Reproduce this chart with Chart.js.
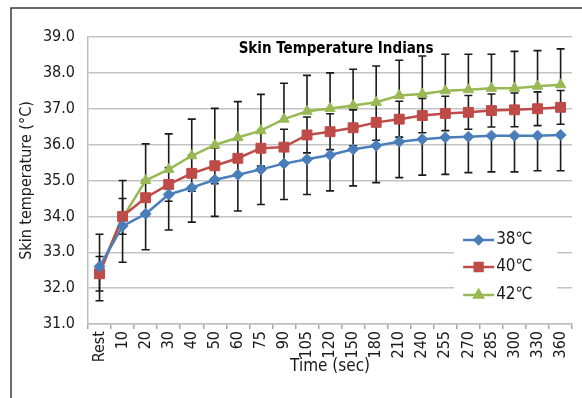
<!DOCTYPE html>
<html>
<head>
<meta charset="utf-8">
<script src="https://cdn.jsdelivr.net/npm/chart.js@4.4.1/dist/chart.umd.min.js"></script>
<style>
    html, body { margin: 0; padding: 0; background: #fff; }
    #wrap { width: 582px; height: 398px; position: relative; }
</style>
</head>
<body>
<div id="wrap"><canvas id="skinChart" width="582" height="398"></canvas></div>
<script>
// time points (sec)
const timeLabels = ['Rest', '10', '20', '30', '40', '50', '60', '75', '90', '105', '120',
    '150', '180', '210', '240', '255', '270', '285', '300', '330', '360'];

// mean skin temperature per condition
const temp38 = [32.6, 33.73, 34.07, 34.61, 34.8, 35.02, 35.16, 35.31, 35.47, 35.59, 35.71,
    35.87, 35.97, 36.08, 36.15, 36.2, 36.22, 36.25, 36.25, 36.25, 36.27];
const temp40 = [32.4, 34.0, 34.52, 34.89, 35.2, 35.41, 35.62, 35.9, 35.93, 36.27, 36.36,
    36.47, 36.62, 36.71, 36.81, 36.87, 36.9, 36.95, 36.97, 37.0, 37.04];
const temp42 = [32.5, 33.96, 35.0, 35.31, 35.69, 35.99, 36.2, 36.39, 36.71, 36.93, 37.01,
    37.09, 37.18, 37.37, 37.41, 37.5, 37.53, 37.57, 37.57, 37.63, 37.67];

// error bars (38 shown below, 40 both ways, 42 shown above)
const err38 = [0.95, 1.01, 1.0, 0.99, 0.96, 1.02, 1.01, 0.98, 1.0, 0.98, 1.0,
    1.02, 1.03, 1.0, 1.0, 1.03, 1.0, 1.01, 1.01, 0.98, 1.0];
const err40 = [0.48, 0.5, 0.5, 0.47, 0.5, 0.5, 0.5, 0.5, 0.5, 0.5, 0.5,
    0.5, 0.5, 0.5, 0.48, 0.48, 0.47, 0.46, 0.47, 0.47, 0.47];
const err42 = [1.0, 1.04, 1.02, 0.99, 1.02, 1.02, 1.0, 1.01, 1.0, 1.0, 0.99,
    1.01, 1.01, 0.98, 1.06, 1.02, 0.99, 0.95, 1.03, 0.99, 1.0];

const seriesNames = ['38\u2103', '40\u2103', '42\u2103'];
const seriesColors = ['#4a7ebb', '#be4b48', '#98b954'];

const FONT = "'Liberation Sans Narrow', 'DejaVu Sans Condensed', sans-serif";
Chart.defaults.font.family = FONT;
Chart.defaults.color = '#1a1a1a';

const errorSpec = [
    { plus: null, minus: err38 },
    { plus: err40, minus: err40 },
    { plus: err42, minus: null }
];

// outer frame, title and error bars
const frameAndTitle = {
    id: 'frameAndTitle',
    beforeDraw(chart) {
        const ctx = chart.ctx;
        ctx.save();
        ctx.strokeStyle = '#3a3a3a';
        ctx.lineWidth = 1.5;
        ctx.beginPath();
        ctx.moveTo(11, chart.height);
        ctx.lineTo(11, 8);
        ctx.lineTo(chart.width, 8);
        ctx.stroke();
        ctx.restore();
    },
    beforeDatasetsDraw(chart) {
        const ctx = chart.ctx;
        const area = chart.chartArea;
        ctx.save();
        ctx.fillStyle = '#000';
        ctx.font = 'bold 15px ' + FONT;
        ctx.textAlign = 'center';
        ctx.textBaseline = 'middle';
        ctx.fillText('Skin Temperature Indians', (area.left + area.right) / 2 + 6, area.top + 12);

        // error bars
        const yScale = chart.scales.y;
        ctx.strokeStyle = '#1a1a1a';
        ctx.lineWidth = 1.6;
        chart.data.datasets.forEach((ds, i) => {
            const spec = errorSpec[i];
            chart.getDatasetMeta(i).data.forEach((pt, j) => {
                const v = ds.data[j];
                const hi = spec.plus ? v + spec.plus[j] : v;
                const lo = spec.minus ? v - spec.minus[j] : v;
                const y1 = yScale.getPixelForValue(hi);
                const y2 = yScale.getPixelForValue(lo);
                ctx.beginPath();
                ctx.moveTo(pt.x, y1);
                ctx.lineTo(pt.x, y2);
                if (spec.plus) { ctx.moveTo(pt.x - 4, y1); ctx.lineTo(pt.x + 4, y1); }
                if (spec.minus) { ctx.moveTo(pt.x - 4, y2); ctx.lineTo(pt.x + 4, y2); }
                ctx.stroke();
            });
        });
        ctx.restore();
    }
};

// legend box inside the plot
const insideLegend = {
    id: 'insideLegend',
    afterDraw(chart) {
        const ctx = chart.ctx;
        const area = chart.chartArea;
        const boxL = area.right - 118, boxR = area.right - 15;
        ctx.save();
        ctx.fillStyle = '#fff';
        ctx.fillRect(boxL, area.bottom - 102, boxR - boxL, 92);
        const rowY = [area.bottom - 84, area.bottom - 57, area.bottom - 29];
        const styles = ['rectRot', 'rect', 'triangle'];
        const radii = [4, 5.5, 5];
        chart.data.datasets.forEach((ds, i) => {
            const y = rowY[i];
            const x0 = boxL + 9, x1 = boxL + 40;
            ctx.strokeStyle = seriesColors[i];
            ctx.lineWidth = 2.5;
            ctx.beginPath();
            ctx.moveTo(x0, y);
            ctx.lineTo(x1, y);
            ctx.stroke();
            ctx.fillStyle = seriesColors[i];
            Chart.helpers.drawPoint(ctx, {
                pointStyle: styles[i], radius: radii[i], rotation: 0, borderWidth: 1
            }, (x0 + x1) / 2, y);
            ctx.fillStyle = '#1a1a1a';
            ctx.font = '17px ' + FONT;
            ctx.textAlign = 'left';
            ctx.textBaseline = 'middle';
            ctx.fillText(ds.label, x1 + 2, y);
        });
        ctx.restore();
    }
};

const ctx = document.getElementById('skinChart').getContext('2d');
new Chart(ctx, {
    type: 'line',
    data: {
        labels: timeLabels,
        datasets: [
            {
                label: seriesNames[0], data: temp38,
                borderColor: seriesColors[0], backgroundColor: seriesColors[0],
                pointStyle: 'rectRot', pointRadius: 5.5
            },
            {
                label: seriesNames[1], data: temp40,
                borderColor: seriesColors[1], backgroundColor: seriesColors[1],
                pointStyle: 'rect', pointRadius: 7
            },
            {
                label: seriesNames[2], data: temp42,
                borderColor: seriesColors[2], backgroundColor: seriesColors[2],
                pointStyle: 'triangle', pointRadius: 6
            }
        ]
    },
    options: {
        responsive: false,
        animation: false,
        devicePixelRatio: 1,
        layout: { padding: { left: 13, right: 6, top: 37, bottom: 17 } },
        elements: {
            line: { borderWidth: 2.5, tension: 0 },
            point: { borderWidth: 1, hoverRadius: 6 }
        },
        plugins: {
            legend: { display: false },
            tooltip: { enabled: false }
        },
        scales: {
            x: {
                offset: true,
                grid: {
                    offset: true, drawOnChartArea: false, drawTicks: true,
                    tickLength: 5, color: '#a6a6a6', lineWidth: 1.5
                },
                border: { color: '#bfbfbf', width: 1.5 },
                ticks: { minRotation: 90, maxRotation: 90, autoSkip: false, padding: 2,
                    font: { size: 16 } },
                title: { display: true, text: 'Time (sec)', font: { size: 17 } },
                afterFit(scale) { scale.height = 57; }
            },
            y: {
                min: 31, max: 39,
                ticks: { stepSize: 1, padding: 13, font: { size: 16 },
                    callback: v => v.toFixed(1) },
                grid: { drawTicks: false, color: '#c4c4c4', lineWidth: 1.5 },
                border: { color: '#bfbfbf', width: 1.5 },
                title: { display: true, text: 'Skin temperature (\u00b0C)', font: { size: 16 } },
                afterFit(scale) { scale.width = 75; }
            }
        }
    },
    plugins: [frameAndTitle, insideLegend]
});
</script>
</body>
</html>
